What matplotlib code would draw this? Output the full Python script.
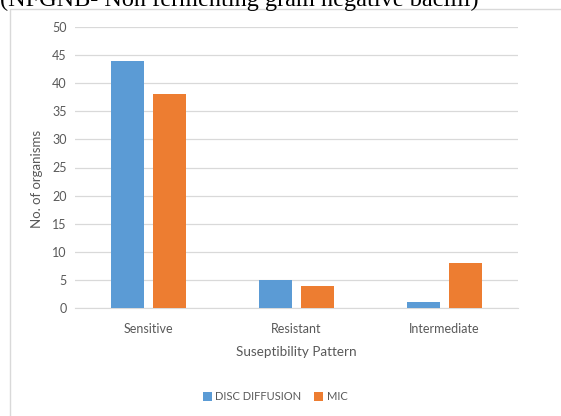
import numpy as np
import matplotlib.pyplot as plt
from matplotlib.patches import Rectangle

# datos
categorias = ["Sensitive", "Resistant", "Intermediate"]
disc_diffusion = [44, 5, 1]
mic = [38, 4, 8]
series = ["DISC DIFFUSION", "MIC"]
y_ticks = [0, 5, 10, 15, 20, 25, 30, 35, 40, 45, 50]

azul = '#5B9BD5'
naranja = '#ED7D31'
gris_texto = '#595959'
gris_linea = '#D9D9D9'

plt.rcParams['font.family'] = ['Lato', 'DejaVu Sans']

fig = plt.figure(figsize=(5.61, 4.16), dpi=100)

# marco del grafico
fig.patches.append(Rectangle((10 / 561, -0.01), 1.0, 1 - 9 / 416 + 0.01,
                             transform=fig.transFigure, fill=False,
                             edgecolor=gris_linea, linewidth=1.0))

# titulo cortado arriba (asi viene en la imagen original)
fig.text(0.0, 1 - 6 / 416, "(NFGNB- Non fermenting gram negative bacilli)",
         family='Liberation Serif', fontsize=17.5, color='black', va='baseline', ha='left')

ax = fig.add_axes([75 / 561, 1 - 308 / 416, 443 / 561, 281 / 416])

x = np.arange(len(categorias))
ancho = 0.223
sep = 0.06
ax.bar(x - (ancho + sep) / 2, disc_diffusion, ancho, color=azul, label=series[0], zorder=3)
ax.bar(x + (ancho + sep) / 2, mic, ancho, color=naranja, label=series[1], zorder=3)

ax.set_xlim(-0.5, 2.5)
ax.set_ylim(0, 50)
ax.set_yticks(y_ticks)
ax.set_xticks(x)
ax.set_xticklabels(categorias)
ax.tick_params(axis='both', length=0, labelsize=9, colors=gris_texto)
ax.tick_params(axis='x', pad=11)
ax.tick_params(axis='y', pad=6)
ax.grid(axis='y', color=gris_linea, linewidth=0.9, zorder=0)
for lado in ['top', 'right', 'left']:
    ax.spines[lado].set_visible(False)
ax.spines['bottom'].set_color(gris_linea)

ax.set_xlabel("Suseptibility Pattern", fontsize=9.7, color=gris_texto, labelpad=8)
ax.set_ylabel("No. of organisms", fontsize=9.5, color=gris_texto)
ax.yaxis.set_label_coords(-32 / 443, 0.46)

ax.legend(loc='center', bbox_to_anchor=(275 / 561, 1 - 397 / 416),
          bbox_transform=fig.transFigure, ncol=2, frameon=False,
          fontsize=8, labelcolor=gris_texto, handlelength=0.8, handleheight=0.8,
          handletextpad=0.3, columnspacing=1.2)

plt.savefig('out.png', dpi=100)
